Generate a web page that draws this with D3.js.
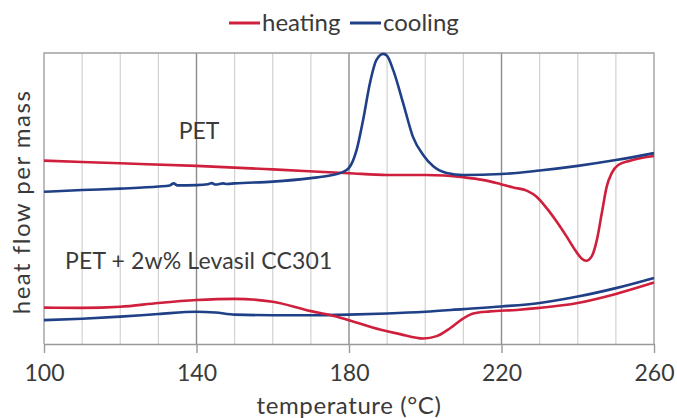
<!DOCTYPE html>
<html>
<head>
<meta charset="utf-8">
<script src="https://cdn.jsdelivr.net/npm/d3@7"></script>
<style>
  body { margin: 0; background: #fff; }
  text { font-family: Lato, "Open Sans", sans-serif; fill: #3a3a3a; }
</style>
</head>
<body>
<div id="canvas"></div>
<script>
// temperature (°C) and heat flow (arbitrary units)
var petHeatT = [100, 120, 140, 160, 180, 190, 200, 205, 210, 215, 219.6, 223.1, 226.6, 229.2, 231.9, 234.5, 237.1, 239.3, 241.0, 242.2, 243.7, 245.0, 246.3, 247.6, 248.9, 250.6, 253.7, 260];
var petHeatV = [6.30, 6.21, 6.12, 6.00, 5.87, 5.81, 5.81, 5.79, 5.73, 5.64, 5.50, 5.38, 5.27, 5.06, 4.66, 4.20, 3.69, 3.23, 2.94, 2.86, 3.02, 3.57, 4.49, 5.41, 5.87, 6.15, 6.30, 6.46];

var petCoolT = [100, 110, 120, 130, 133, 134, 135, 140, 143, 144, 145, 147, 148, 150, 160, 170, 175, 178, 180, 182, 183.7, 185.5, 187.2, 189, 190, 191.6, 194.2, 196.8, 199.5, 202.1, 205.6, 210, 220, 230, 240, 250, 260];
var petCoolV = [5.23, 5.29, 5.34, 5.41, 5.45, 5.52, 5.45, 5.46, 5.49, 5.53, 5.48, 5.52, 5.50, 5.52, 5.58, 5.70, 5.79, 5.89, 6.05, 6.67, 7.70, 8.97, 9.76, 9.97, 9.90, 9.41, 8.28, 7.11, 6.49, 6.11, 5.88, 5.81, 5.84, 5.96, 6.12, 6.32, 6.56];

var mixHeatT = [100, 110, 120, 130, 140, 150, 160, 170, 175, 180, 188.1, 193.4, 199.5, 203, 206.5, 210, 212.6, 217, 224, 230, 240, 250, 260];
var mixHeatV = [1.25, 1.24, 1.28, 1.41, 1.51, 1.55, 1.45, 1.13, 1.00, 0.82, 0.50, 0.34, 0.19, 0.27, 0.54, 0.88, 1.05, 1.12, 1.17, 1.24, 1.41, 1.72, 2.11];

var mixCoolT = [100, 110, 120, 130, 140, 145, 150, 160, 170, 180, 190, 200, 210, 220, 230, 240, 250, 260];
var mixCoolV = [0.82, 0.87, 0.94, 1.03, 1.11, 1.08, 1.01, 0.99, 0.99, 1.01, 1.05, 1.11, 1.20, 1.29, 1.41, 1.63, 1.92, 2.27];

var xTicks = [100, 140, 180, 220, 260];
var gridMinor = [110, 120, 130, 150, 160, 170, 190, 200, 210, 230, 240, 250];
var gridMajor = [140, 180, 220];

var seriesNames = ["heating", "cooling"];
var seriesColors = ["#cf1f3c", "#1f3f87"];

var width = 677, height = 418;
var margin = {left: 44, right: 23, top: 53, bottom: 74};

var svg = d3.select("div#canvas").append("svg")
  .attr("width", width)
  .attr("height", height);

var x = d3.scaleLinear().domain([100, 260]).range([margin.left, width - margin.right]);
var y = d3.scaleLinear().domain([0, 10]).range([height - margin.bottom, margin.top]);

// grid
svg.selectAll("line.minor").data(gridMinor).enter().append("line")
  .attr("x1", function(d) { return x(d); }).attr("x2", function(d) { return x(d); })
  .attr("y1", y(10)).attr("y2", y(0))
  .attr("stroke", "#d2d2d2").attr("stroke-width", 1.2);

svg.selectAll("line.major").data(gridMajor).enter().append("line")
  .attr("x1", function(d) { return x(d); }).attr("x2", function(d) { return x(d); })
  .attr("y1", y(10)).attr("y2", y(0))
  .attr("stroke", "#8c8c8c").attr("stroke-width", 1.4);

// frame
svg.append("path")
  .attr("d", "M" + x(100) + "," + y(0) + "V" + y(10) + "H" + x(260) + "V" + y(0))
  .attr("fill", "none").attr("stroke", "#a0a0a0").attr("stroke-width", 1.4);

// x axis
var xAxis = svg.append("g")
  .attr("transform", "translate(0," + y(0) + ")")
  .call(d3.axisBottom(x).tickValues(xTicks).tickSize(9).tickPadding(12).tickSizeOuter(0));
xAxis.select(".domain").attr("stroke", "#999").attr("stroke-width", 1.4);
xAxis.selectAll(".tick line").attr("stroke", "#999").attr("stroke-width", 1.4);
xAxis.selectAll(".tick text")
  .attr("font-family", "Lato, sans-serif")
  .attr("font-size", 23)
  .attr("fill", "#3a3a3a");

svg.append("text")
  .attr("x", (x(100) + x(260)) / 2).attr("y", 414)
  .attr("text-anchor", "middle")
  .attr("font-size", 24)
  .attr("letter-spacing", 0.6)
  .text("temperature (°C)");

svg.append("text")
  .attr("transform", "translate(30," + 202 + ") rotate(-90)")
  .attr("text-anchor", "middle")
  .attr("font-size", 24)
  .attr("letter-spacing", 1.5)
  .text("heat flow per mass");

// curves
var line = d3.line()
  .x(function(d) { return x(d[0]); })
  .y(function(d) { return y(d[1]); })
  .curve(d3.curveMonotoneX);

var curves = [
  {t: mixCoolT, v: mixCoolV, c: 1},
  {t: mixHeatT, v: mixHeatV, c: 0},
  {t: petHeatT, v: petHeatV, c: 0},
  {t: petCoolT, v: petCoolV, c: 1}
];

svg.selectAll("path.curve").data(curves).enter().append("path")
  .attr("class", "curve")
  .attr("d", function(d) { return line(d3.zip(d.t, d.v)); })
  .attr("fill", "none")
  .attr("stroke", function(d) { return seriesColors[d.c]; })
  .attr("stroke-width", 2.6);

// labels
svg.append("text")
  .attr("x", 199).attr("y", 139)
  .attr("text-anchor", "middle")
  .attr("font-size", 23)
  .text("PET");

svg.append("text")
  .attr("x", 65).attr("y", 269)
  .attr("font-size", 23)
  .attr("letter-spacing", 0.15)
  .text("PET + 2w% Levasil CC301");

// legend
var legendX = [229, 350];
var legend = svg.selectAll("g.legend").data(seriesNames).enter().append("g")
  .attr("transform", function(d, i) { return "translate(" + legendX[i] + ",23)"; });
legend.append("line")
  .attr("x1", 0).attr("x2", 31)
  .attr("stroke", function(d, i) { return seriesColors[i]; })
  .attr("stroke-width", 3);
legend.append("text")
  .attr("x", 33).attr("y", 8)
  .attr("font-size", 24)
  .text(function(d) { return d; });
</script>
</body>
</html>
